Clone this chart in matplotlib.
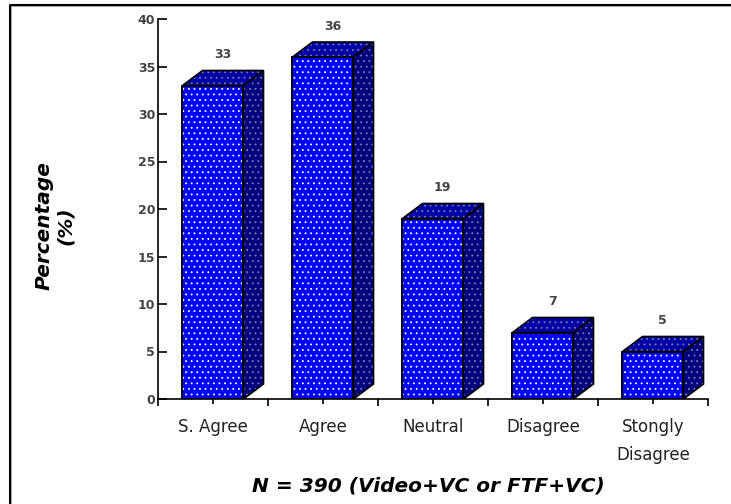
import matplotlib
matplotlib.use("Agg")
import matplotlib.pyplot as plt
from matplotlib.patches import Polygon

categorias = ["S. Agree", "Agree", "Neutral", "Disagree", "Stongly\nDisagree"]
valores = [33, 36, 19, 7, 5]
y_ticks = [0, 5, 10, 15, 20, 25, 30, 35, 40]
titulo_y = "Percentage\n(%)"
titulo_x = "N = 390 (Video+VC or FTF+VC)"

W, H = 731, 504
plt.rcParams["font.family"] = ["DejaVu Sans"]
plt.rcParams["hatch.linewidth"] = 0.6

fig = plt.figure(figsize=(W / 100, H / 100), dpi=100)
# moldura: so em cima e a esquerda, com sombra cinza
fig.add_artist(plt.Line2D([11 / W, 11 / W, 1], [0, 1 - 6 / H, 1 - 6 / H], color="#999999", lw=1.2))
fig.add_artist(plt.Line2D([9.5 / W, 9.5 / W, 1], [0, 1 - 5 / H, 1 - 5 / H], color="black", lw=1.5))

# eixo em pixels da imagem
x0, x1, y0, y1 = 158, 708, 399, 19
ax = fig.add_axes([x0 / W, 1 - y0 / H, (x1 - x0) / W, (y0 - y1) / H])
ax.set_xlim(0, 5)
ax.set_ylim(0, 40)
ax.patch.set_alpha(0)

larg = 61 / 110
dx = 20 / 110
dy = 15 / 9.5
for i, v in enumerate(valores):
    esq = i + 0.5 - larg / 2
    dir = esq + larg
    topo = [(esq, v), (dir, v), (dir + dx, v + dy), (esq + dx, v + dy)]
    lado = [(dir, 0), (dir + dx, dy), (dir + dx, v + dy), (dir, v)]
    ax.add_patch(Polygon(topo, closed=True, fc="#0000a8", ec="#8080a0", hatch="...", lw=0, zorder=2))
    ax.add_patch(Polygon(topo, closed=True, fill=False, ec="black", lw=1.2, zorder=3))
    ax.add_patch(Polygon(lado, closed=True, fc="#000080", ec="#8080a0", hatch="...", lw=0, zorder=2))
    ax.add_patch(Polygon(lado, closed=True, fill=False, ec="black", lw=1.2, zorder=3))
    ax.bar(i + 0.5 - 0.005, v, larg, color="#0000ff", edgecolor="white", hatch="...", lw=0, zorder=4)
    ax.bar(i + 0.5 - 0.005, v, larg, fill=False, edgecolor="black", lw=1.4, zorder=5)
    ax.text(i + 0.5 + dx / 2 - 0.005, v + dy + 1.0, str(v), ha="center", va="bottom", fontsize=9,
            fontweight="bold", color="#444444", zorder=6)

for lado_ax in ["top", "right"]:
    ax.spines[lado_ax].set_visible(False)
for lado_ax in ["left", "bottom"]:
    ax.spines[lado_ax].set_linewidth(1.2)
    ax.spines[lado_ax].set_zorder(6)

ax.set_yticks(y_ticks)
ax.tick_params(axis="y", direction="in", length=6.5, width=1.2, labelsize=9, pad=2)
for t in ax.get_yticklabels():
    t.set_fontweight("bold")
    t.set_color("#444444")

ax.set_xticks(range(6))
ax.set_xticklabels([])
ax.set_xticks([i + 0.5 for i in range(5)], minor=True)
ax.set_xticklabels(categorias, minor=True, fontsize=12, linespacing=1.7, color="#222222")
ax.tick_params(axis="x", which="major", length=5, width=1.2)
ax.tick_params(axis="x", which="minor", length=3.5, width=1.2, pad=10)

fig.text(55 / W, 1 - 226 / H, titulo_y, rotation=90, ha="center", va="center", fontsize=14.5,
         fontstyle="italic", fontweight="bold", linespacing=1.15)
fig.text(428 / W, 1 - 486 / H, titulo_x, ha="center", va="center", fontsize=14.5,
         fontstyle="italic", fontweight="bold")

fig.savefig("out.png", dpi=100)
